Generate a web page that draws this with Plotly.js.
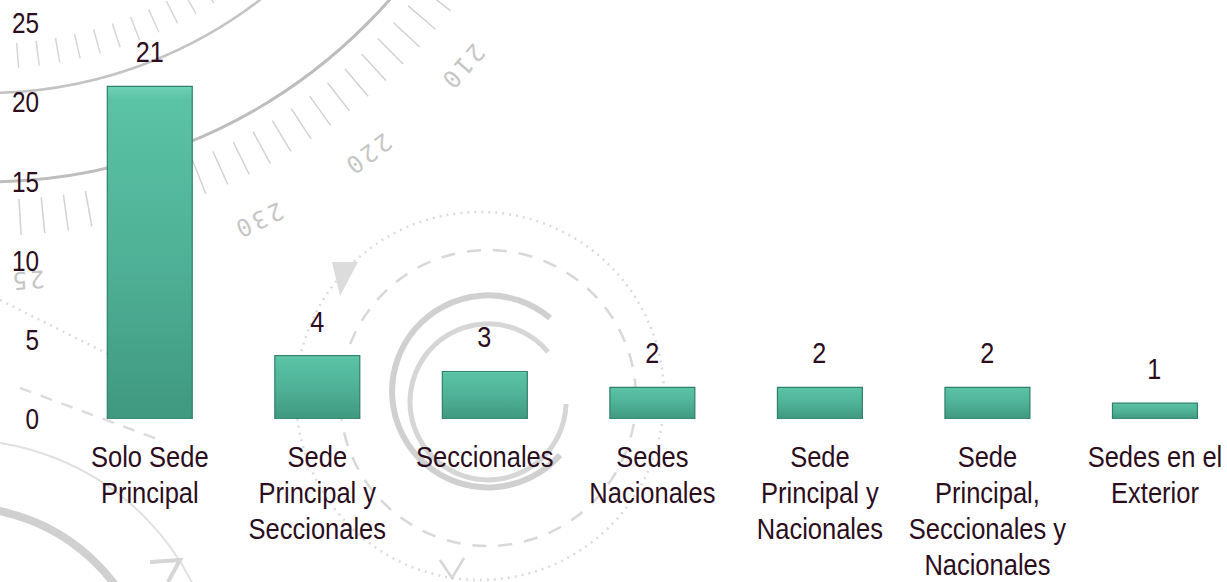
<!DOCTYPE html>
<html>
<head>
<meta charset="utf-8">
<script src="https://cdn.plot.ly/plotly-3.0.1.min.js"></script>
<style>
  html, body { margin: 0; padding: 0; background: #ffffff; }
  #wrap { position: relative; width: 1227px; height: 582px; overflow: hidden; }
  #bg { position: absolute; left: 0; top: 0; }
  #chart { position: absolute; left: 0; top: 0; width: 1227px; height: 582px; }
</style>
</head>
<body>
<div id="wrap">
  <svg id="bg" width="1227" height="582" xmlns="http://www.w3.org/2000/svg"></svg>
  <div id="chart"></div>
</div>
<script>
// ---- data ----
var categories = [
  "Solo Sede<br>Principal",
  "Sede<br>Principal y<br>Seccionales",
  "Seccionales",
  "Sedes<br>Nacionales",
  "Sede<br>Principal y<br>Nacionales",
  "Sede<br>Principal,<br>Seccionales y<br>Nacionales",
  "Sedes en el<br>Exterior"
];
var values = [21, 4, 3, 2, 2, 2, 1];
var yTicks = [0, 5, 10, 15, 20, 25];

// ---- decorative background (faint compass graphics) ----
(function () {
  var svg = document.getElementById('bg');
  var ns = 'http://www.w3.org/2000/svg';
  function el(tag, attrs) {
    var e = document.createElementNS(ns, tag);
    for (var k in attrs) e.setAttribute(k, attrs[k]);
    svg.appendChild(e);
    return e;
  }
  var cx = -14, cy = -356;
  el('circle', {cx: cx, cy: cy, r: 538, fill: 'none', stroke: '#bdbdbd', 'stroke-width': 3});
  el('circle', {cx: cx, cy: cy, r: 449, fill: 'none', stroke: '#c4c4c4', 'stroke-width': 2.5});
  var a, t, c, s;
  for (a = 36; a <= 92; a += 2.3) {
    t = a * Math.PI / 180; c = Math.cos(t); s = Math.sin(t);
    el('line', {x1: cx + 556 * c, y1: cy + 556 * s, x2: cx + 592 * c, y2: cy + 592 * s, stroke: '#d2d2d2', 'stroke-width': 1.5});
  }
  for (a = 52; a <= 92; a += 2.8) {
    t = a * Math.PI / 180; c = Math.cos(t); s = Math.sin(t);
    el('line', {x1: cx + 400 * c, y1: cy + 400 * s, x2: cx + 425 * c, y2: cy + 425 * s, stroke: '#d6d6d6', 'stroke-width': 1.5});
  }
  var labs = [['210', 41.6], ['220', 53.2], ['230', 64.7], ['240', 75.8], ['25', 86.3]];
  labs.forEach(function (l) {
    var t = l[1] * Math.PI / 180;
    var x = cx + 636 * Math.cos(t), y = cy + 636 * Math.sin(t);
    var tx = el('text', {x: x, y: y, 'font-family': 'DejaVu Sans Mono, monospace', 'font-size': 24, fill: '#c6c6c6',
      'text-anchor': 'middle', 'dominant-baseline': 'middle', 'letter-spacing': 3,
      transform: 'rotate(' + (l[1] + 90) + ' ' + x + ' ' + y + ')'});
    tx.textContent = l[0];
  });
  // rings around centre
  el('path', {d: 'M 550 318 A 96 96 0 1 0 560 455', fill: 'none', stroke: '#d0d0d0', 'stroke-width': 6});
  el('path', {d: 'M 548 352 A 78 78 0 1 0 566 404', fill: 'none', stroke: '#d6d6d6', 'stroke-width': 5});
  // dotted large circle
  el('circle', {cx: 480, cy: 396, r: 184, fill: 'none', stroke: '#dcdcdc', 'stroke-width': 2.5, 'stroke-dasharray': '2 5'});
  // dashed circle
  el('circle', {cx: 488, cy: 398, r: 148, fill: 'none', stroke: '#d8d8d8', 'stroke-width': 2.5, 'stroke-dasharray': '14 12'});
  // lower-left arcs
  el('circle', {cx: -40, cy: 700, r: 193, fill: 'none', stroke: '#d0d0d0', 'stroke-width': 8});
  el('circle', {cx: -40, cy: 700, r: 260, fill: 'none', stroke: '#e0e0e0', 'stroke-width': 2});
  el('line', {x1: 0, y1: 300, x2: 130, y2: 365, stroke: '#dcdcdc', 'stroke-width': 2.5, 'stroke-dasharray': '2 5'});
  el('line', {x1: 20, y1: 388, x2: 160, y2: 440, stroke: '#dcdcdc', 'stroke-width': 2.5, 'stroke-dasharray': '12 10'});
  // arrowheads
  el('path', {d: 'M 332 262 L 358 262 L 340 296 Z', fill: '#dcdcdc'});
  el('path', {d: 'M 440 560 L 452 578 L 464 558', fill: 'none', stroke: '#d6d6d6', 'stroke-width': 2.5});
  el('path', {d: 'M 150 562 L 180 560 L 168 582', fill: 'none', stroke: '#d6d6d6', 'stroke-width': 4});
})();

// ---- chart ----
var fontFam = "'Liberation Sans Narrow', 'Arial Narrow', 'Liberation Sans', Arial, sans-serif";
var txtColor = '#2b0d1d';

var trace = {
  type: 'bar',
  x: categories,
  y: values,
  width: 0.507,
  marker: {color: '#4cb093', line: {color: '#2f7f69', width: 1.2}},
  hoverinfo: 'none'
};

var annotations = categories.map(function (c, i) {
  return {
    x: c, y: values[i], xref: 'x', yref: 'y',
    text: String(values[i]), showarrow: false,
    yanchor: 'bottom', yshift: 16,
    font: {family: fontFam, size: 30, color: txtColor}
  };
});

var layout = {
  width: 1227, height: 582,
  margin: {l: 66, r: 0, t: 23, b: 163, pad: 0},
  paper_bgcolor: 'rgba(0,0,0,0)',
  plot_bgcolor: 'rgba(0,0,0,0)',
  showlegend: false,
  xaxis: {
    type: 'category',
    range: [-0.5, 6.43],
    tickangle: 0,
    showgrid: false, zeroline: false, showline: false,
    ticks: '', ticklabelstandoff: 17,
    tickfont: {family: fontFam, size: 30, color: txtColor}
  },
  yaxis: {
    range: [0, 25],
    tickvals: yTicks,
    ticktext: yTicks.map(String),
    showgrid: false, zeroline: false, showline: false,
    ticks: '', ticklabelstandoff: 26,
    tickfont: {family: fontFam, size: 29, color: txtColor}
  },
  annotations: annotations
};

function condense(node, factor, anchor) {
  var bb;
  try { bb = node.getBBox(); } catch (e) { return; }
  var px = anchor === 'end' ? bb.x + bb.width : bb.x + bb.width / 2;
  var prev = node.getAttribute('transform') || '';
  node.setAttribute('transform', prev + ' translate(' + px + ',0) scale(' + factor + ',1) translate(' + (-px) + ',0)');
}

Plotly.newPlot('chart', [trace], layout, {staticPlot: true, displayModeBar: false}).then(function (gd) {
  var root = gd.querySelector('.main-svg');
  var ns = 'http://www.w3.org/2000/svg';
  var defs = root.querySelector('defs') || root.insertBefore(document.createElementNS(ns, 'defs'), root.firstChild);
  var grad = document.createElementNS(ns, 'linearGradient');
  grad.setAttribute('id', 'barGrad');
  grad.setAttribute('x1', '0'); grad.setAttribute('y1', '0');
  grad.setAttribute('x2', '0'); grad.setAttribute('y2', '1');
  [['0', '#6fd3b6'], ['0.04', '#5ac2a5'], ['0.5', '#4fb297'], ['1', '#3f9880']].forEach(function (st) {
    var s = document.createElementNS(ns, 'stop');
    s.setAttribute('offset', st[0]); s.setAttribute('stop-color', st[1]);
    grad.appendChild(s);
  });
  defs.appendChild(grad);
  gd.querySelectorAll('.barlayer .point path').forEach(function (p) { p.style.fill = 'url(#barGrad)'; });

  // tighter line spacing (1.2 instead of 1.3) and narrow glyphs for the category labels
  gd.querySelectorAll('.xtick text').forEach(function (tx) {
    tx.querySelectorAll('tspan.line').forEach(function (ts) {
      var dy = parseFloat(ts.getAttribute('dy'));
      if (dy) ts.setAttribute('dy', (dy / 1.3 * 1.2).toFixed(3) + 'em');
    });
    condense(tx, 0.85, 'middle');
  });
  gd.querySelectorAll('.ytick text').forEach(function (tx) { condense(tx, 0.84, 'end'); });
  gd.querySelectorAll('.annotation-text').forEach(function (tx) { condense(tx, 0.84, 'middle'); });
});
</script>
</body>
</html>
